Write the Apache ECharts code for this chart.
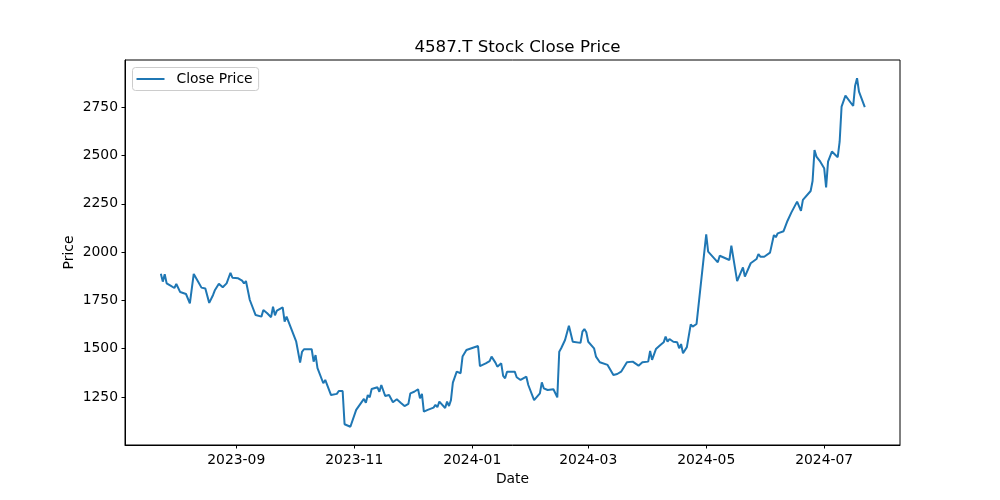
<!DOCTYPE html>
<html><head><meta charset="utf-8">
<script src="https://cdn.jsdelivr.net/npm/echarts@6/dist/echarts.min.js"></script>
<style>html,body{margin:0;padding:0;background:#fff}#c{width:1000px;height:500px}</style>
</head><body><div id="c"></div>
<script>
const dates = [
'2023-07-24','2023-07-25','2023-07-26','2023-07-27','2023-07-29','2023-07-31','2023-08-01','2023-08-03','2023-08-04','2023-08-06',
'2023-08-08','2023-08-10','2023-08-12','2023-08-14','2023-08-16','2023-08-18','2023-08-20','2023-08-21','2023-08-22','2023-08-23',
'2023-08-25','2023-08-27','2023-08-28','2023-08-29','2023-08-30','2023-08-31','2023-09-02','2023-09-04','2023-09-05','2023-09-06',
'2023-09-08','2023-09-11','2023-09-12','2023-09-14','2023-09-15','2023-09-17','2023-09-19','2023-09-20','2023-09-21','2023-09-22',
'2023-09-25','2023-09-26','2023-09-27','2023-09-28','2023-10-02','2023-10-04','2023-10-05','2023-10-06','2023-10-10','2023-10-11',
'2023-10-12','2023-10-13','2023-10-16','2023-10-17','2023-10-18','2023-10-20','2023-10-23','2023-10-24','2023-10-25','2023-10-26',
'2023-10-27','2023-10-30','2023-11-02','2023-11-05','2023-11-06','2023-11-07','2023-11-08','2023-11-09','2023-11-10','2023-11-13',
'2023-11-14','2023-11-15','2023-11-17','2023-11-19','2023-11-20','2023-11-21','2023-11-23','2023-11-25','2023-11-27','2023-11-29',
'2023-11-30','2023-12-02','2023-12-04','2023-12-05','2023-12-06','2023-12-07','2023-12-09','2023-12-12','2023-12-13','2023-12-14',
'2023-12-15','2023-12-18','2023-12-19','2023-12-20','2023-12-21','2023-12-22','2023-12-24','2023-12-25','2023-12-26','2023-12-27',
'2023-12-28','2023-12-29','2024-01-04','2024-01-05','2024-01-08','2024-01-10','2024-01-11','2024-01-13','2024-01-14','2024-01-15',
'2024-01-16','2024-01-17','2024-01-18','2024-01-19','2024-01-23','2024-01-24','2024-01-26','2024-01-29','2024-01-30','2024-01-31',
'2024-02-02','2024-02-05','2024-02-06','2024-02-07','2024-02-09','2024-02-12','2024-02-14','2024-02-15','2024-02-16','2024-02-18',
'2024-02-20','2024-02-22','2024-02-26','2024-02-27','2024-02-28','2024-02-29','2024-03-01','2024-03-04','2024-03-05','2024-03-06',
'2024-03-07','2024-03-11','2024-03-12','2024-03-14','2024-03-16','2024-03-18','2024-03-19','2024-03-21','2024-03-24','2024-03-27',
'2024-03-29','2024-04-01','2024-04-02','2024-04-03','2024-04-05','2024-04-07','2024-04-09','2024-04-10','2024-04-11','2024-04-12',
'2024-04-14','2024-04-16','2024-04-17','2024-04-18','2024-04-19','2024-04-21','2024-04-23','2024-04-24','2024-04-26','2024-05-01',
'2024-05-02','2024-05-07','2024-05-08','2024-05-13','2024-05-14','2024-05-17','2024-05-20','2024-05-21','2024-05-22','2024-05-24',
'2024-05-27','2024-05-28','2024-05-29','2024-05-31','2024-06-03','2024-06-05','2024-06-06','2024-06-07','2024-06-10','2024-06-12',
'2024-06-13','2024-06-14','2024-06-17','2024-06-19','2024-06-20','2024-06-24','2024-06-25','2024-06-26','2024-06-27','2024-06-28',
'2024-06-29','2024-07-01','2024-07-02','2024-07-03','2024-07-05','2024-07-08','2024-07-09','2024-07-10','2024-07-11','2024-07-12',
'2024-07-16','2024-07-17','2024-07-18','2024-07-19','2024-07-22'
];
const closePrice = [
1888,1847,1885,1838,1826,1814,1835,1793,1800,1783,
1735,1887,1852,1816,1811,1737,1778,1804,1795,1836,
1818,1838,1844,1893,1867,1876,1864,1852,1838,1850,
1752,1674,1666,1666,1700,1683,1663,1717,1673,1697,
1714,1640,1666,1640,1536,1428,1484,1497,1497,1433,
1467,1399,1321,1338,1329,1260,1266,1281,1272,1281,
1109,1096,1183,1226,1240,1220,1260,1248,1291,1300,
1277,1312,1255,1260,1260,1223,1238,1220,1203,1214,
1269,1277,1290,1243,1266,1174,1183,1195,1209,1197,
1226,1193,1226,1203,1234,1324,1381,1390,1373,1459,
1450,1493,1514,1410,1424,1436,1459,1428,1407,1412,
1424,1359,1347,1381,1381,1352,1338,1355,1312,1307,
1234,1269,1326,1295,1286,1290,1248,1484,1502,1545,
1619,1536,1530,1588,1602,1585,1536,1502,1459,1467,
1430,1416,1424,1364,1369,1381,1378,1430,1433,1412,
1430,1433,1488,1442,1498,1516,1533,1562,1536,1550,
1536,1533,1502,1524,1476,1508,1626,1614,1628,2092,
2002,1947,1981,1959,2033,1850,1921,1873,1878,1942,
1964,1990,1976,1976,1997,2088,2077,2097,2108,2161,
2157,2204,2261,2213,2270,2316,2368,2528,2494,2499,
2468,2434,2335,2468,2520,2491,2571,2753,2753,2810,
2756,2861,2900,2830,2750
];
const xTickLabels = ['2023-09','2023-11','2024-01','2024-03','2024-05','2024-07'];
const yTickValues = [1250,1500,1750,2000,2250,2500,2750];

function toTs(s){ const p=s.split('-').map(Number); return new Date(p[0], p[1]-1, p[2]||1).getTime(); }
const xTicks = xTickLabels.map(toTs);
const seriesData = dates.map((d,i)=>[toTs(d), closePrice[i]]);
const font = 'DejaVu Sans';
const fmtMonth = v => { const d = new Date(v); return d.getFullYear() + '-' + String(d.getMonth()+1).padStart(2,'0'); };

const chart = echarts.init(document.getElementById('c'), null, {renderer:'canvas'});
chart.setOption({
  animation:false,
  backgroundColor:'#fff',
  title:{text:'4587.T Stock Close Price', left:512.5, textAlign:'center', top:34,
    textStyle:{fontFamily:font, fontSize:16.7, fontWeight:'normal', color:'#000'}},
  grid:{left:125,right:100,top:60,bottom:55, show:true, borderColor:'#000', borderWidth:1},
  legend:{left:132.5, top:67.5, padding:[4.5,6,4.5,4], borderColor:'#ccc', borderWidth:1, borderRadius:3,
    backgroundColor:'rgba(255,255,255,0.8)', itemWidth:28, itemHeight:2, icon:'rect',
    textStyle:{fontFamily:font, fontSize:13.9, color:'#000', padding:[0,0,0,7]},
    data:['Close Price']},
  xAxis:{type:'value', min:new Date(2023,6,5,11).getTime(), max:new Date(2024,7,9,5).getTime(),
    name:'Date', nameLocation:'middle', nameGap:27, nameMoveOverlap:false,
    nameTextStyle:{fontFamily:font, fontSize:13.9, color:'#000'},
    axisLine:{show:true, lineStyle:{color:'#000', width:1}},
    axisTick:{show:true, length:3.5, customValues:xTicks, lineStyle:{color:'#000'}},
    axisLabel:{customValues:xTicks, formatter:fmtMonth, fontFamily:font, fontSize:13.9, color:'#000', margin:8},
    splitLine:{show:false}},
  yAxis:{type:'value', min:1001.5, max:2994,
    name:'Price', nameLocation:'middle', nameGap:49, nameMoveOverlap:false,
    nameTextStyle:{fontFamily:font, fontSize:13.9, color:'#000'},
    axisLine:{show:true, lineStyle:{color:'#000', width:1}},
    axisTick:{show:true, length:3.5, customValues:yTickValues, lineStyle:{color:'#000'}},
    axisLabel:{customValues:yTickValues, formatter: v => String(v), fontFamily:font, fontSize:13.9, color:'#000', margin:7},
    splitLine:{show:false}},
  series:[{type:'line', name:'Close Price', data:seriesData, showSymbol:false, symbol:'none',
    lineStyle:{color:'#1f77b4', width:2}, itemStyle:{color:'#1f77b4'}}]
});
</script></body></html>
